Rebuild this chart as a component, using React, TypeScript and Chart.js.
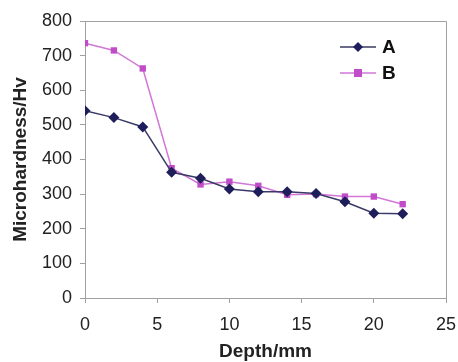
import React, { useEffect, useRef } from "react";
import { Chart, registerables } from "chart.js";

Chart.register(...registerables);

const depth = [0, 2, 4, 6, 8, 10, 12, 14, 16, 18, 20, 22];
const seriesA = [541, 521, 494, 363, 346, 315, 307, 307, 302, 278, 245, 243];
const seriesB = [736, 715, 663, 375, 328, 336, 324, 298, 300, 293, 293, 271];
const labelA = "A";
const labelB = "B";
const xTitle = "Depth/mm";
const yTitle = "Microhardness/Hv";

const colorA = "#1e1e5a";
const lineA = "#3a3a66";
const colorB = "#c04cc8";
const lineB = "#d276d8";
const axisGray = "#a0a0a0";

const boxAndLegend = {
  id: "boxAndLegend",
  afterDraw(chart: any) {
    const { ctx, chartArea } = chart;
    ctx.save();
    ctx.strokeStyle = axisGray;
    ctx.lineWidth = 1;
    ctx.beginPath();
    ctx.moveTo(chartArea.left, chartArea.top + 0.5);
    ctx.lineTo(chartArea.right + 0.5, chartArea.top + 0.5);
    ctx.lineTo(chartArea.right + 0.5, chartArea.bottom);
    ctx.stroke();

    const items = [
      { label: labelA, line: lineA, fill: colorA, style: "diamond", y: 47 },
      { label: labelB, line: lineB, fill: colorB, style: "square", y: 73 },
    ];
    items.forEach((it) => {
      ctx.strokeStyle = it.line;
      ctx.lineWidth = 1.5;
      ctx.beginPath();
      ctx.moveTo(340, it.y);
      ctx.lineTo(376, it.y);
      ctx.stroke();
      ctx.fillStyle = it.fill;
      const cx = 358;
      if (it.style === "diamond") {
        ctx.beginPath();
        ctx.moveTo(cx, it.y - 5);
        ctx.lineTo(cx + 5, it.y);
        ctx.lineTo(cx, it.y + 5);
        ctx.lineTo(cx - 5, it.y);
        ctx.closePath();
        ctx.fill();
      } else {
        ctx.fillRect(cx - 4, it.y - 4, 8, 8);
      }
      ctx.fillStyle = "#111";
      ctx.font = "bold 19px 'Liberation Sans', Arial, sans-serif";
      ctx.textAlign = "left";
      ctx.textBaseline = "middle";
      ctx.fillText(it.label, 382, it.y + 1);
    });
    ctx.restore();
  },
};

export default function App() {
  const ref = useRef<HTMLCanvasElement | null>(null);
  useEffect(() => {
    document.body.style.margin = "0";
    const canvas = ref.current;
    if (!canvas) return;
    const tickFont = { family: "'Liberation Sans', Arial, sans-serif", size: 18 };
    const titleFont = { family: "'Liberation Sans', Arial, sans-serif", size: 19, weight: "bold" as const };
    const chart = new Chart(canvas, {
      type: "line",
      data: {
        datasets: [
          {
            label: labelA,
            data: depth.map((d, i) => ({ x: d, y: seriesA[i] })),
            borderColor: lineA,
            backgroundColor: colorA,
            borderWidth: 1.5,
            pointStyle: "rectRot",
            pointRadius: 5.5,
            pointBorderWidth: 0,
            pointBackgroundColor: colorA,
            tension: 0,
          },
          {
            label: labelB,
            data: depth.map((d, i) => ({ x: d, y: seriesB[i] })),
            borderColor: lineB,
            backgroundColor: colorB,
            borderWidth: 1.5,
            pointStyle: "rect",
            pointRadius: 4.5,
            pointBorderWidth: 0,
            pointBackgroundColor: colorB,
            tension: 0,
          },
        ],
      },
      options: {
        responsive: false,
        animation: false,
        layout: { padding: { left: 0, right: 12, top: 21, bottom: 0 } },
        plugins: { legend: { display: false }, tooltip: { enabled: false } },
        scales: {
          x: {
            type: "linear",
            min: 0,
            max: 25,
            ticks: { stepSize: 5, font: tickFont, color: "#222", padding: 11, maxRotation: 0 },
            grid: { display: true, drawOnChartArea: false, tickLength: 5, color: axisGray },
            border: { display: true, color: axisGray },
            title: { display: true, text: xTitle, font: titleFont, color: "#222", padding: { top: 0, bottom: -1 } },
            afterFit(scale: any) {
              scale.height = 64;
              scale.paddingLeft = 0;
              scale.paddingRight = 0;
            },
          },
          y: {
            min: 0,
            max: 800,
            ticks: { stepSize: 100, font: tickFont, color: "#222", padding: 8 },
            grid: { display: true, drawOnChartArea: false, tickLength: 5, color: axisGray },
            border: { display: true, color: axisGray },
            title: { display: true, text: yTitle, font: titleFont, color: "#222", padding: { top: 9, bottom: 0 } },
            afterFit(scale: any) {
              scale.width = 85;
              scale.paddingTop = 0;
              scale.paddingBottom = 0;
            },
          },
        },
      },
      plugins: [boxAndLegend],
    });
    return () => chart.destroy();
  }, []);
  return (
    <div style={{ width: 458, height: 362, background: "#fff" }}>
      <canvas ref={ref} width={458} height={362} />
    </div>
  );
}
